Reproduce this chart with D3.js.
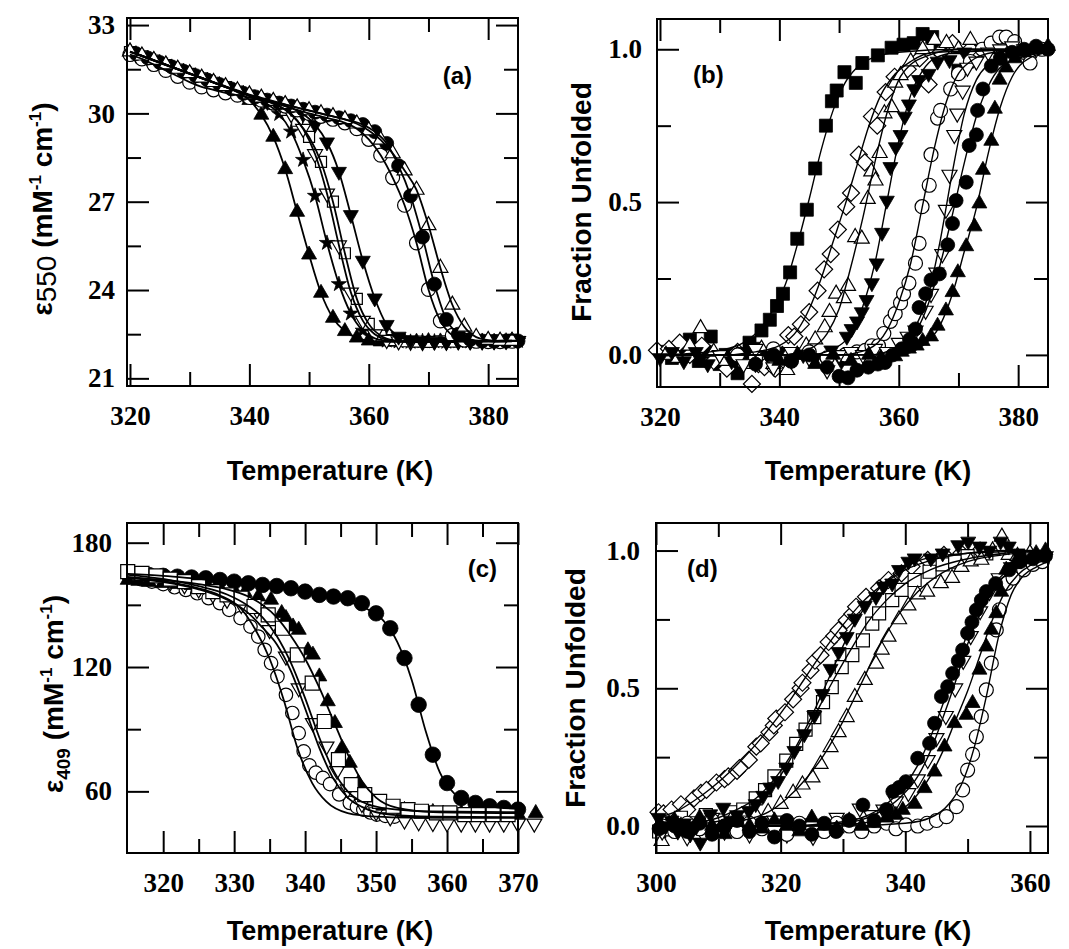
<!DOCTYPE html>
<html>
<head>
<meta charset="utf-8">
<script src="https://cdn.jsdelivr.net/npm/d3@7"></script>
<style>
  body { margin: 0; background: #fff; }
  .tick text { font-family: "Liberation Serif", "Times New Roman", serif; font-weight: bold; font-size: 27px; fill: #000; }
  .ttl { font-family: "Liberation Sans", Arial, Helvetica, sans-serif; font-weight: bold; fill: #000; }
</style>
</head>
<body>
<svg id="fig" width="1069" height="949"></svg>
<script>
// ---------- panel (a): eps550 vs temperature, two temperature grids ----------
const tA  = [320,322,324,326,328,330,332,334,336,338,340,342,344,346,348,350,352,354,356,358,360,362,364,366,368,370,372,374,376,378,380,382,384];
const tA2 = [321,323,325,327,329,331,333,335,337,339,341,343,345,347,349,351,353,355,357,359,361,363,365,367,369,371,373,375,377,379,381,383,385];

const aTriUp = [32.10,31.95,31.80,31.65,31.50,31.35,31.20,31.05,30.90,30.72,30.45,29.95,29.20,28.10,26.65,25.20,23.90,23.05,22.60,22.38,22.28,22.25,22.24,22.25,22.24,22.26,22.25,22.27,22.26,22.27,22.28,22.27,22.28];
const aStar = [32.03,31.88,31.73,31.58,31.43,31.28,31.13,30.98,30.83,30.68,30.52,30.32,29.98,29.38,28.42,27.20,25.60,24.20,23.20,22.62,22.36,22.28,22.25,22.24,22.26,22.25,22.24,22.26,22.25,22.27,22.26,22.28,22.27];
const aSqOpen = [32.08,31.94,31.79,31.64,31.49,31.34,31.19,31.04,30.89,30.74,30.60,30.48,30.33,30.12,29.75,29.20,28.35,27.00,25.25,23.70,22.85,22.45,22.30,22.26,22.25,22.24,22.26,22.25,22.27,22.26,22.27,22.28,22.27];
const aTriDownOpen = [32.02,31.87,31.72,31.57,31.42,31.27,31.12,30.97,30.82,30.67,30.54,30.42,30.25,29.98,29.48,28.62,27.28,25.52,23.92,22.96,22.50,22.31,22.26,22.25,22.24,22.26,22.25,22.26,22.27,22.26,22.27,22.28,22.27];
const aTriDown = [32.03,31.88,31.73,31.58,31.43,31.28,31.13,30.98,30.83,30.68,30.55,30.44,30.32,30.18,29.98,29.62,29.02,28.02,26.55,25.00,23.72,22.82,22.42,22.29,22.25,22.25,22.24,22.26,22.25,22.27,22.26,22.27,22.28];
const aCircOpen = [32.00,31.85,31.66,31.46,31.26,31.06,30.90,30.80,30.70,30.62,30.54,30.45,30.35,30.25,30.12,30.00,29.90,29.80,29.68,29.48,29.12,28.58,27.82,26.88,25.60,24.02,22.95,22.46,22.30,22.26,22.25,22.25,22.26];
const aCirc = [32.03,31.88,31.73,31.58,31.43,31.28,31.13,30.98,30.83,30.68,30.56,30.45,30.35,30.25,30.14,30.04,29.94,29.85,29.75,29.62,29.38,28.98,28.22,27.20,25.80,24.20,23.00,22.50,22.32,22.27,22.26,22.26,22.27];
const aTriOpen = [32.10,31.96,31.81,31.66,31.51,31.36,31.21,31.06,30.92,30.78,30.64,30.53,30.42,30.31,30.20,30.10,30.00,29.90,29.80,29.65,29.42,29.10,28.64,28.06,27.40,26.20,24.75,23.50,22.75,22.40,22.30,22.27,22.27];

// ---------- panel (b): fraction unfolded, points [T, f] and fitted curves ----------
const bSq = [[320.5,0.01],[322,-0.01],[323.5,0.02],[325,0.05],[326.5,-0.02],[327.5,0.01],[328.5,0.06],[330,-0.03],[331,0.0],[332,-0.02],[333,-0.06],[334,0.0],[335,0.04],[336,0.02],[337,0.08],[338.4,0.115],[339.6,0.16],[340.6,0.2],[341.8,0.27],[343,0.38],[344.6,0.475],[346,0.61],[347.8,0.75],[348.8,0.83],[349.6,0.865],[350.9,0.925],[352.8,0.89],[353.9,0.955],[356.5,0.98],[358.8,1.005],[360.8,1.015],[362.5,1.02],[364,1.05],[365.6,1.04],[367,1.0],[370,0.93]];
const bDia = [[319.5,0.015],[321.5,0.02],[323.3,0.04],[325,0.0],[327,0.03],[329,-0.02],[331.2,-0.045],[333,0.01],[335.4,-0.095],[336.5,-0.03],[337.5,-0.04],[339.3,-0.045],[340.5,0.0],[341.5,0.065],[342.5,0.06],[343.6,0.1],[345,0.14],[346.4,0.21],[347.5,0.28],[348.6,0.33],[349.8,0.41],[351.2,0.485],[352,0.53],[353.3,0.655],[354.3,0.63],[355.5,0.78],[356.4,0.75],[357.8,0.86],[359.3,0.91],[361.5,0.935],[363.5,0.97],[365,0.885],[367,0.99],[369,1.02],[372,1.0],[375,1.01]];
const bTriO = [[321,0.0],[323,-0.01],[325,0.03],[326.8,0.087],[329,0.01],[331,-0.02],[333,0.0],[335,-0.03],[337,0.02],[339,-0.03],[341.3,-0.05],[343,0.0],[344.5,0.03],[346,0.05],[347.6,0.09],[348.4,0.14],[349.5,0.2],[350.8,0.185],[351.5,0.225],[352.7,0.385],[353.8,0.38],[354.8,0.51],[355.4,0.6],[356.1,0.57],[356.8,0.66],[357.6,0.79],[358.8,0.81],[359.4,0.89],[360.3,0.915],[362,0.96],[364,1.0],[366,1.03],[368,1.02],[370,1.0],[372,1.03],[375,1.0]];
const bTriD = [[320,-0.01],[322,0.01],[324,-0.02],[326,0.01],[328,-0.03],[330,0.0],[332,-0.02],[334,0.01],[336,-0.03],[338,0.0],[340,0.01],[342,-0.02],[344,0.0],[346,-0.01],[348.7,0.015],[350.4,-0.02],[351.3,0.06],[352.1,0.085],[353,0.11],[353.8,0.14],[354.6,0.18],[355.5,0.235],[356.3,0.3],[357.2,0.4],[358,0.505],[358.6,0.615],[359.5,0.68],[360.3,0.72],[361,0.78],[361.7,0.82],[362.6,0.87],[363.4,0.9],[365,0.92],[366.5,0.96],[368.5,0.965],[371,0.99],[374,1.0]];
const bCircO = [[333,0.0],[336,-0.01],[339,0.02],[342,-0.02],[345,0.01],[348,-0.01],[351,0.0],[353,0.01],[354.4,0.015],[355.5,0.03],[356.6,0.03],[357.5,0.07],[358.6,0.11],[359.4,0.135],[360.3,0.17],[360.8,0.2],[361.7,0.235],[362.8,0.3],[363.4,0.365],[363.9,0.485],[365.1,0.555],[365.4,0.655],[366.5,0.775],[367,0.8],[368.7,0.87],[370,0.92],[372,0.96],[374,1.0],[375.5,1.02],[376.9,1.04],[378,1.04],[379.4,1.025],[381,0.99],[382,0.955],[384,1.0]];
const bTriDO = [[330,0.0],[334,-0.03],[336,0.02],[339,-0.04],[342,0.01],[345,-0.01],[348,-0.05],[350,0.0],[352,0.01],[354,0.0],[356,0.02],[358,0.01],[360,0.04],[361.5,0.06],[362.8,0.08],[364.5,0.145],[365.4,0.2],[366.3,0.27],[367.3,0.33],[367.9,0.475],[368.5,0.59],[369.3,0.72],[369.8,0.79],[370.7,0.865],[371.5,0.94],[373,0.96],[375,0.99],[377,1.0],[379,1.01],[381,1.0],[383,1.0]];
const bCirc = [[336,-0.03],[339,0.0],[342,-0.02],[345,0.0],[348,-0.04],[350,-0.07],[351.5,-0.075],[353,-0.05],[354.9,-0.04],[356.5,-0.03],[357.7,-0.025],[359,0.0],[360.5,0.02],[361.8,0.05],[362.8,0.085],[363.4,0.155],[364.5,0.2],[365.4,0.245],[366.8,0.265],[368.2,0.36],[369,0.43],[369.6,0.505],[371.3,0.565],[371.8,0.685],[373,0.72],[373.2,0.8],[374.1,0.87],[375.5,0.945],[377,0.97],[379,0.99],[381,1.0],[383,1.01],[385,1.0]];
const bTri = [[340,-0.02],[343,0.0],[346,-0.03],[349,0.0],[352,-0.02],[355,0.0],[357,-0.01],[359.4,-0.005],[360.5,0.01],[361.7,0.02],[363,0.03],[364,0.045],[365.4,0.06],[366.5,0.095],[367.9,0.145],[369,0.205],[369.9,0.27],[371.3,0.355],[372.7,0.42],[373.5,0.495],[374.1,0.605],[375.5,0.7],[376.1,0.805],[376.9,0.9],[378,0.94],[379.5,0.97],[381,0.99],[383,1.0],[385,1.01]];

const bSqFit = [[319.5,0.0],[325,0.005],[330,0.015],[334,0.04],[337,0.09],[339,0.15],[341,0.23],[343,0.36],[345,0.51],[347,0.67],[349,0.8],[351,0.89],[353,0.94],[356,0.975],[360,0.99],[370,1.0],[385,1.0]];
const bDiaFit = [[319.5,0.0],[330,0.0],[336,0.01],[340,0.03],[343,0.08],[345,0.15],[347,0.25],[349,0.37],[351,0.49],[353,0.62],[355,0.75],[357,0.85],[359,0.91],[362,0.96],[366,0.99],[385,1.0]];
const bTriOFit = [[319.5,0.0],[340,0.0],[345,0.02],[348,0.07],[350,0.15],[352,0.29],[354,0.45],[356,0.63],[358,0.79],[360,0.9],[362,0.95],[365,0.98],[370,1.0],[385,1.0]];
const bTriDFit = [[319.5,0.0],[345,0.0],[350,0.03],[352,0.07],[354,0.16],[356,0.3],[358,0.5],[360,0.7],[362,0.85],[364,0.93],[366,0.97],[370,0.99],[385,1.0]];
const bCircOFit = [[319.5,0.0],[350,0.0],[355,0.02],[358,0.08],[360,0.17],[362,0.3],[364,0.49],[366,0.68],[368,0.83],[370,0.92],[372,0.96],[376,0.99],[385,1.0]];
const bTriDOFit = [[319.5,0.0],[355,0.0],[360,0.03],[363,0.1],[365,0.2],[367,0.38],[369,0.6],[371,0.79],[373,0.9],[375,0.95],[378,0.98],[385,0.99]];
const bCircFit = [[319.5,0.0],[355,0.0],[360,0.02],[363,0.08],[365,0.17],[367,0.3],[369,0.46],[371,0.63],[373,0.78],[375,0.88],[377,0.94],[380,0.97],[385,0.99]];
const bTriFit = [[319.5,0.0],[360,0.0],[364,0.03],[367,0.1],[369,0.2],[371,0.34],[373,0.48],[375,0.66],[377,0.81],[379,0.91],[381,0.96],[385,0.99]];

// ---------- panel (c): eps409 vs temperature ----------
const cCirc = [[316,164.8],[318,164.4],[320,164.0],[322,163.6],[324,163.2],[326,162.8],[328,162.0],[330,161.2],[332,160.4],[334,159.6],[336,159.1],[338,158.0],[340,156.4],[342,154.8],[344,154.0],[346,153.2],[348,150.8],[350,145.9],[352,138.7],[354,124.3],[356,101.8],[358,77.7],[360,64.0],[362,56.8],[364,54.4],[366,52.8],[368,52.0],[370,51.2]];
const cSq = [[315,166.0],[317,165.2],[319,164.0],[321,162.4],[323,161.2],[325,158.8],[327,156.4],[329,154.8],[331,153.2],[332.8,149.2],[334.8,145.2],[336.8,138.7],[338.9,125.9],[341,112.2],[342.7,93.7],[344.7,75.3],[346.5,63.2],[348.4,58.4],[350.5,55.2],[352.4,52.8],[354.5,51.2],[356.4,50.4],[358.5,49.6],[360.4,49.6],[362.5,48.8],[364.4,48.8],[366.5,48.8],[368.6,48.8]];
const cCircO = [[315.2,163.3],[316.8,162.4],[318.4,161.2],[320,160.0],[321.6,158.5],[323.2,157.2],[324.8,155.6],[326.4,153.2],[328,150.8],[329.3,147.6],[330.9,143.6],[332.3,139.5],[333.4,134.7],[334.3,128.3],[335.2,121.9],[336.1,115.4],[337.3,106.6],[338.2,97.8],[339.1,88.1],[339.8,79.3],[340.6,72.5],[341.5,69.0],[342.5,66.5],[343.5,63.5],[344.8,58.5],[346.3,54.4],[347.3,52.5],[348.2,51.2],[349.2,49.8],[350.1,48.8],[351.3,48.2],[352.6,47.8]];
const cTriDO = [[317,163.5],[319,162.5],[321,161.0],[323,159.5],[325,157.5],[327,155.0],[329,152.5],[331,150.0],[333.2,147.6],[335,137.9],[337.3,125.1],[339.1,109.8],[341.1,93.0],[343,81.7],[344.5,70.0],[346,61.0],[348,54.0],[350,50.0],[352,47.5],[354,46.0],[356,45.2],[358,44.8],[360,44.6],[362,44.5],[364,44.5],[366,44.5],[368,44.5],[370,44.5],[372.3,44.5]];
const cTri = [[315,162.0],[316.5,161.5],[318,161.0],[320,160.5],[322,160.0],[324,159.5],[326,158.8],[328,158.0],[330,157.0],[331.5,156.0],[333.4,154.0],[335.2,152.4],[336.7,146.0],[337.3,143.6],[338.3,139.5],[339.1,137.9],[340.4,128.0],[341.1,125.9],[342,115.4],[343.2,103.4],[344.2,92.9],[345.2,80.9],[346.3,73.7],[347.5,64.0],[349,57.0],[351,53.0],[354,51.0],[358,50.0],[362,49.5],[366,49.2],[370,49.0],[372.5,49.5]];

const cCircFit = [[315,165.0],[320,164.0],[325,162.5],[330,161.0],[335,159.3],[340,156.5],[344,153.5],[347,150.5],[349,147.5],[351,142.5],[353,132.0],[355,114.0],[357,89.0],[359,69.0],[361,59.0],[363,55.0],[366,52.8],[370,51.5]];
const cSqFit = [[315,164.5],[320,162.5],[325,159.0],[329,155.0],[332,149.5],[334,144.0],[336,135.0],[338,122.0],[340,105.0],[342,86.0],[344,70.0],[346,60.0],[348,55.0],[352,51.5],[358,50.3],[370,50.0]];
const cCircOFit = [[315,163.5],[320,161.5],[325,158.0],[328,154.5],[331,148.0],[333,138.0],[335,124.0],[337,104.0],[339,80.0],[341,64.0],[343,55.0],[346,49.5],[350,47.8],[355,47.3],[360,47.2],[370,47.2]];
const cTriDOFit = [[315,163.0],[320,161.0],[325,157.5],[329,152.5],[332,146.0],[334,139.0],[336,131.0],[338,118.0],[340,100.0],[342,81.0],[344,66.0],[346,57.0],[348,52.5],[352,48.8],[358,47.8],[370,47.5]];
const cTriFit = [[315,163.0],[320,162.0],[325,160.0],[329,157.5],[332,154.0],[334,150.0],[336,144.0],[338,135.0],[340,124.0],[342,110.0],[344,94.0],[346,78.0],[348,65.0],[350,57.0],[353,52.0],[358,50.0],[370,49.5]];

// ---------- panel (d): fraction unfolded ----------
const dDia = [[300.4,0.05],[301.2,0.046],[302.5,0.06],[303.5,0.03],[304,0.079],[305,0.06],[306.1,0.1],[307.2,0.12],[308.1,0.131],[309.7,0.158],[311,0.17],[311.6,0.18],[313,0.2],[313.4,0.21],[314.9,0.24],[316.1,0.288],[316.8,0.3],[318.2,0.34],[318.9,0.365],[319.3,0.39],[320.7,0.413],[322,0.46],[323.2,0.5],[323.5,0.52],[324.8,0.565],[325.5,0.6],[326.4,0.62],[327.7,0.668],[328.6,0.69],[329.3,0.711],[330.6,0.747],[331.5,0.77],[332.1,0.796],[333.7,0.832],[335.8,0.863],[337.3,0.893],[339.4,0.917],[341,0.942],[343.6,0.966],[346.2,0.984],[349,0.99],[352,1.0]];
const dTriD = [[300.4,0.03],[301.5,0.0],[302.5,0.02],[303.5,-0.02],[304.5,0.01],[305.5,-0.03],[306.5,0.0],[307.1,-0.06],[308.7,0.043],[309.5,-0.01],[310.8,0.067],[312,0.02],[313,0.04],[314.9,0.055],[316,0.08],[317.2,0.11],[318.3,0.14],[319.6,0.164],[320.9,0.213],[322.2,0.273],[323.8,0.334],[325.4,0.401],[326.7,0.48],[328,0.571],[329.3,0.632],[330.6,0.687],[331.9,0.753],[333.5,0.8],[335.3,0.832],[336.5,0.87],[337.9,0.881],[339,0.93],[340.5,0.96],[341.5,0.972],[344.1,0.972],[346,0.99],[348.5,1.02],[350.1,1.033],[351.9,1.015],[353.5,1.0],[355.3,1.033],[356.6,1.015],[358,0.99]];
const dSq = [[300.5,-0.02],[302,0.0],[304,0.03],[306,0.01],[308,0.04],[310,0.02],[312,0.05],[314,0.06],[316,0.1],[317.5,0.13],[319,0.18],[320.9,0.237],[322.5,0.298],[324,0.35],[325.4,0.395],[326.8,0.45],[328.2,0.504],[329.8,0.577],[331.5,0.62],[333.2,0.674],[334.7,0.735],[335.8,0.772],[337.9,0.82],[339.4,0.857],[341.5,0.893],[343.9,0.923],[346,0.95],[348,0.96],[350,0.98],[353,0.99]];
const dTriO = [[300.9,-0.055],[302,-0.02],[304,0.0],[306,-0.03],[308,0.01],[310,-0.02],[312,0.02],[314,0.0],[316,0.04],[318,0.05],[320,0.08],[322,0.12],[323.5,0.15],[325.1,0.176],[326.4,0.225],[328,0.286],[329.3,0.34],[330.6,0.395],[331.9,0.468],[333.5,0.53],[335.3,0.589],[336.2,0.64],[337.3,0.687],[339,0.75],[340.5,0.8],[342,0.84],[343.5,0.85],[345.7,0.881],[347.5,0.9],[349,0.94],[350.5,0.96],[352.2,0.966],[354,1.0],[355.5,1.05],[356.6,0.984],[358,0.98],[360,0.99]];
const dCirc = [[300.5,-0.01],[303,0.0],[305,-0.02],[307,0.01],[309,-0.03],[311,0.0],[313,0.02],[315,-0.02],[317,0.01],[319,-0.04],[321,0.02],[323,0.0],[325,-0.03],[327,0.01],[328.9,-0.02],[331,0.02],[333.2,0.076],[335,0.02],[337,0.06],[338,0.125],[339,0.14],[340.1,0.161],[342,0.246],[343.9,0.3],[344.7,0.373],[345.8,0.47],[346.8,0.506],[347.6,0.554],[348.5,0.6],[349.2,0.639],[350,0.7],[350.7,0.74],[351.4,0.784],[352.2,0.82],[353,0.851],[354.5,0.88],[356.7,0.93],[358.5,0.96],[360.5,0.97],[362.5,0.98]];
const dTriDO = [[301,-0.02],[303,0.01],[305,-0.04],[307,0.0],[309,0.03],[311,-0.02],[313,0.01],[315,-0.03],[317,0.0],[319,0.02],[321,-0.03],[323,0.01],[325.2,-0.039],[327,0.0],[329,0.03],[331,0.01],[332.7,0.064],[334.5,0.04],[336.5,0.06],[338.5,0.09],[340.5,0.12],[342,0.17],[343.6,0.24],[345,0.32],[346.5,0.4],[348,0.5],[349.3,0.6],[350.5,0.69],[352,0.78],[353.5,0.85],[355,0.9],[357,0.94],[359,0.96],[361,0.97],[362.5,0.98]];
const dTri = [[300.8,0.0],[303,0.02],[305,-0.01],[307,0.03],[309,0.0],[311,-0.03],[313,0.02],[315,0.0],[317,-0.01],[319,0.02],[321,0.0],[323,-0.02],[325,0.03],[327,0.0],[329,-0.01],[331,0.02],[333,0.0],[335,0.01],[337,0.03],[338.5,0.04],[339.6,0.058],[341.5,0.08],[343.1,0.137],[344.7,0.197],[346.3,0.288],[347.9,0.373],[349.8,0.403],[350.8,0.446],[351.9,0.567],[353,0.651],[353.8,0.712],[354.6,0.772],[355.4,0.85],[356.2,0.93],[357.5,0.95],[359,0.97],[361,0.99],[362.5,1.0]];
const dCircO = [[301,0.0],[303,-0.02],[305,0.01],[307,-0.01],[309,0.02],[311,0.0],[313,-0.02],[315,0.01],[317,-0.01],[319,0.0],[321,-0.03],[323,0.01],[325,0.0],[327,-0.02],[329,0.01],[331,0.0],[333,-0.02],[335,0.0],[337,0.01],[338.5,-0.01],[340.1,0.004],[342,0.0],[343.5,0.01],[345,0.02],[346.6,0.034],[348.2,0.07],[349.2,0.131],[350,0.203],[350.8,0.26],[351.4,0.324],[352.2,0.397],[353,0.494],[353.8,0.591],[354.6,0.712],[355.1,0.785],[356.2,0.881],[357.3,0.9],[359,0.93],[360.5,0.95],[362,0.96]];

const dDiaFit = [[300,0.03],[303,0.05],[306,0.09],[309,0.14],[312,0.2],[315,0.27],[318,0.35],[321,0.44],[324,0.54],[327,0.64],[330,0.73],[333,0.81],[336,0.87],[340,0.93],[345,0.97],[350,0.99],[356,1.0],[362.9,1.0]];
const dTriDFit = [[300,0.0],[306,0.01],[310,0.03],[313,0.06],[316,0.1],[319,0.17],[322,0.27],[325,0.4],[328,0.55],[331,0.7],[334,0.81],[337,0.89],[340,0.94],[344,0.975],[350,0.99],[362.9,1.0]];
const dSqFit = [[300,0.0],[308,0.01],[312,0.03],[316,0.08],[319,0.15],[322,0.26],[325,0.38],[328,0.51],[331,0.63],[334,0.74],[337,0.82],[340,0.88],[344,0.93],[350,0.97],[356,0.99],[362.9,1.0]];
const dTriOFit = [[300,0.0],[310,0.0],[314,0.02],[318,0.05],[321,0.1],[324,0.17],[327,0.26],[330,0.38],[333,0.52],[336,0.66],[339,0.77],[342,0.85],[346,0.92],[350,0.96],[356,0.985],[362.9,0.995]];
const dCircFit = [[300,0.0],[320,0.0],[328,0.01],[333,0.03],[337,0.08],[340,0.15],[342,0.22],[344,0.32],[346,0.44],[348,0.57],[350,0.7],[352,0.8],[354,0.87],[356,0.92],[359,0.955],[362.9,0.975]];
const dTriDOFit = [[300,0.0],[320,0.0],[330,0.01],[335,0.04],[339,0.1],[342,0.18],[344,0.27],[346,0.39],[348,0.52],[350,0.66],[352,0.77],[354,0.85],[356,0.91],[359,0.95],[362.9,0.97]];
const dTriFit = [[300,0.0],[325,0.0],[333,0.01],[338,0.04],[341,0.09],[344,0.18],[346,0.27],[348,0.38],[350,0.49],[352,0.62],[354,0.75],[356,0.85],[358,0.91],[360,0.945],[362.9,0.965]];
const dCircOFit = [[300,0.0],[330,0.0],[340,0.01],[344,0.03],[347,0.08],[349,0.15],[351,0.28],[353,0.47],[355,0.69],[357,0.84],[359,0.91],[361,0.94],[362.9,0.96]];

// ---------- drawing ----------
const svg = d3.select("#fig");
svg.append("rect").attr("width", 1069).attr("height", 949).attr("fill", "#fff");

function markerPath(sym, w) {
  if (sym === "circle") return d3.symbol(d3.symbolCircle, Math.PI * w * w / 4)();
  if (sym === "square") return d3.symbol(d3.symbolSquare, w * w)();
  if (sym === "diamond") return d3.symbol(d3.symbolSquare, w * w / 2)();
  if (sym === "star") return d3.symbol(d3.symbolStar, w * w * 0.28)();
  return d3.symbol(d3.symbolTriangle, Math.sqrt(3) / 4 * w * w)();
}
const rotation = { triDown: 180, diamond: 45 };

function drawPanel(p) {
  const x = d3.scaleLinear().domain(p.xDomain).range([p.left, p.right]);
  const y = d3.scaleLinear().domain(p.yDomain).range([p.bottom, p.top]);
  const g = svg.append("g");
  const h = p.bottom - p.top, w = p.right - p.left;

  // markers
  p.series.forEach(s => {
    g.append("g").selectAll("path").data(s.pts).join("path")
      .attr("transform", d => `translate(${x(d[0])},${y(d[1])}) rotate(${rotation[s.sym] || 0})`)
      .attr("d", markerPath(s.sym, s.size))
      .attr("fill", s.fill ? "#000" : "#fff")
      .attr("stroke", "#000")
      .attr("stroke-width", s.fill ? 0.8 : 1.2);
  });

  // fitted curves
  const line = d3.line().x(d => x(d[0])).y(d => y(d[1])).curve(d3.curveMonotoneX);
  p.series.forEach(s => {
    const fit = (s.fit || s.pts).filter(d => d[0] <= p.xDomain[1]);
    g.append("path").attr("d", line(fit))
      .attr("fill", "none").attr("stroke", "#000").attr("stroke-width", p.lineW);
  });

  // axes, ticks inward on all four sides
  const ax = svg.append("g");
  const bottom = ax.append("g").attr("transform", `translate(0,${p.bottom})`);
  bottom.append("g").call(d3.axisBottom(x).tickValues(p.xMajor).tickSize(-22).tickPadding(20).tickFormat(d3.format("d")));
  bottom.append("g").call(d3.axisBottom(x).tickValues(p.xMinor).tickSize(-14).tickFormat(""));
  const top = ax.append("g").attr("transform", `translate(0,${p.top})`);
  top.append("g").call(d3.axisTop(x).tickValues(p.xMajor).tickSize(-22).tickFormat(""));
  top.append("g").call(d3.axisTop(x).tickValues(p.xMinor).tickSize(-14).tickFormat(""));
  const left = ax.append("g").attr("transform", `translate(${p.left},0)`);
  left.append("g").call(d3.axisLeft(y).tickValues(p.yMajor).tickSize(-22).tickPadding(p.yPad).tickFormat(p.yFmt));
  left.append("g").call(d3.axisLeft(y).tickValues(p.yMinor).tickSize(-14).tickFormat(""));
  const right = ax.append("g").attr("transform", `translate(${p.right},0)`);
  right.append("g").call(d3.axisRight(y).tickValues(p.yMajor).tickSize(-22).tickFormat(""));
  right.append("g").call(d3.axisRight(y).tickValues(p.yMinor).tickSize(-14).tickFormat(""));
  ax.selectAll(".domain").remove();
  ax.selectAll(".tick line").attr("stroke", "#000").attr("stroke-width", 2);
  ax.append("rect").attr("x", p.left).attr("y", p.top).attr("width", w).attr("height", h)
    .attr("fill", "none").attr("stroke", "#000").attr("stroke-width", 2);

  // panel tag
  svg.append("text").attr("class", "ttl").attr("x", p.tag[1]).attr("y", p.tag[2])
    .attr("text-anchor", p.tag[3]).style("font-size", "24px").text(p.tag[0]);
  // x title
  svg.append("text").attr("class", "ttl").attr("x", p.xTitle[0]).attr("y", p.xTitle[1])
    .attr("text-anchor", "middle").style("font-size", "27px").text("Temperature (K)");
}

drawPanel({
  left: 127, right: 518, top: 18, bottom: 386,
  xDomain: [319.5, 385], yDomain: [20.74, 33.24],
  xMajor: [320, 340, 360, 380], xMinor: [330, 350, 370],
  yMajor: [21, 24, 27, 30, 33], yMinor: [22.5, 25.5, 28.5, 31.5],
  yFmt: d3.format("d"), yPad: 12, lineW: 1.8,
  tag: ["(a)", 472, 84, "end"], xTitle: [330, 480],
  series: [
    { pts: tA2.map((t, i) => [t, aStar[i]]), sym: "star", fill: true, size: 16 },
    { pts: tA.map((t, i) => [t, aTriUp[i]]), sym: "triUp", fill: true, size: 15 },
    { pts: tA.map((t, i) => [t, aSqOpen[i]]), sym: "square", fill: false, size: 11 },
    { pts: tA2.map((t, i) => [t, aTriDownOpen[i]]), sym: "triDown", fill: false, size: 15 },
    { pts: tA2.map((t, i) => [t, aTriDown[i]]), sym: "triDown", fill: true, size: 15 },
    { pts: tA.map((t, i) => [t, aCircOpen[i]]), sym: "circle", fill: false, size: 14 },
    { pts: tA2.map((t, i) => [t, aCirc[i]]), sym: "circle", fill: true, size: 14 },
    { pts: tA.map((t, i) => [t, aTriOpen[i]]), sym: "triUp", fill: false, size: 15 }
  ]
});

drawPanel({
  left: 657, right: 1048, top: 19, bottom: 387,
  xDomain: [319.5, 385], yDomain: [-0.105, 1.099],
  xMajor: [320, 340, 360, 380], xMinor: [330, 350, 370],
  yMajor: [0, 0.5, 1.0], yMinor: [0.25, 0.75],
  yFmt: d3.format(".1f"), yPad: 15, lineW: 1.4,
  tag: ["(b)", 693, 83, "start"], xTitle: [868, 480],
  series: [
    { pts: bSq, fit: bSqFit, sym: "square", fill: true, size: 13 },
    { pts: bDia, fit: bDiaFit, sym: "diamond", fill: false, size: 17 },
    { pts: bTriO, fit: bTriOFit, sym: "triUp", fill: false, size: 15 },
    { pts: bTriD, fit: bTriDFit, sym: "triDown", fill: true, size: 15 },
    { pts: bCircO, fit: bCircOFit, sym: "circle", fill: false, size: 14 },
    { pts: bTriDO, fit: bTriDOFit, sym: "triDown", fill: false, size: 15 },
    { pts: bCirc, fit: bCircFit, sym: "circle", fill: true, size: 14 },
    { pts: bTri, fit: bTriFit, sym: "triUp", fill: true, size: 15 }
  ]
});

drawPanel({
  left: 127, right: 518, top: 523, bottom: 853,
  xDomain: [314.9, 370], yDomain: [30.25, 189.5],
  xMajor: [320, 330, 340, 350, 360, 370], xMinor: [325, 335, 345, 355, 365],
  yMajor: [60, 120, 180], yMinor: [90, 150],
  yFmt: d3.format("d"), yPad: 15, lineW: 1.8,
  tag: ["(c)", 497, 577, "end"], xTitle: [330, 940],
  series: [
    { pts: cCirc, fit: cCircFit, sym: "circle", fill: true, size: 15.5 },
    { pts: cCircO, fit: cCircOFit, sym: "circle", fill: false, size: 13.5 },
    { pts: cTriDO, fit: cTriDOFit, sym: "triDown", fill: false, size: 15 },
    { pts: cTri, fit: cTriFit, sym: "triUp", fill: true, size: 15 },
    { pts: cSq, fit: cSqFit, sym: "square", fill: false, size: 14 }
  ]
});

drawPanel({
  left: 656, right: 1048, top: 523, bottom: 853,
  xDomain: [300, 362.9], yDomain: [-0.098, 1.1],
  xMajor: [300, 320, 340, 360], xMinor: [310, 330, 350],
  yMajor: [0, 0.5, 1.0], yMinor: [0.25, 0.75],
  yFmt: d3.format(".1f"), yPad: 16, lineW: 1.4,
  tag: ["(d)", 687, 577, "start"], xTitle: [868, 940],
  series: [
    { pts: dDia, fit: dDiaFit, sym: "diamond", fill: false, size: 17 },
    { pts: dSq, fit: dSqFit, sym: "square", fill: false, size: 13 },
    { pts: dTriO, fit: dTriOFit, sym: "triUp", fill: false, size: 15 },
    { pts: dTriDO, fit: dTriDOFit, sym: "triDown", fill: false, size: 15 },
    { pts: dCircO, fit: dCircOFit, sym: "circle", fill: false, size: 14 },
    { pts: dTriD, fit: dTriDFit, sym: "triDown", fill: true, size: 15 },
    { pts: dCirc, fit: dCircFit, sym: "circle", fill: true, size: 14 },
    { pts: dTri, fit: dTriFit, sym: "triUp", fill: true, size: 15 }
  ]
});

// y titles
function epsTitle(x, y, sub, subSize, subDy, subWeight) {
  const t = svg.append("text").attr("class", "ttl")
    .attr("transform", `translate(${x},${y}) rotate(-90)`)
    .attr("text-anchor", "middle").style("font-size", "28px");
  t.append("tspan").text("ε");
  t.append("tspan").attr("font-size", subSize).attr("font-weight", subWeight).attr("dy", subDy).text(sub);
  t.append("tspan").attr("dy", -subDy).text(" (mM");
  t.append("tspan").attr("font-size", 17).attr("dy", -11).text("-1");
  t.append("tspan").attr("dy", 11).text(" cm");
  t.append("tspan").attr("font-size", 17).attr("dy", -11).text("-1");
  t.append("tspan").attr("dy", 11).text(")");
}
epsTitle(52, 209, "550", 28, 4, "normal");
epsTitle(63, 694, "409", 19, 7, "bold");

[[591, 202], [585, 688]].forEach(([x, y]) => {
  svg.append("text").attr("class", "ttl")
    .attr("transform", `translate(${x},${y}) rotate(-90)`)
    .attr("text-anchor", "middle").style("font-size", "28px").text("Fraction Unfolded");
});
</script>
</body>
</html>
